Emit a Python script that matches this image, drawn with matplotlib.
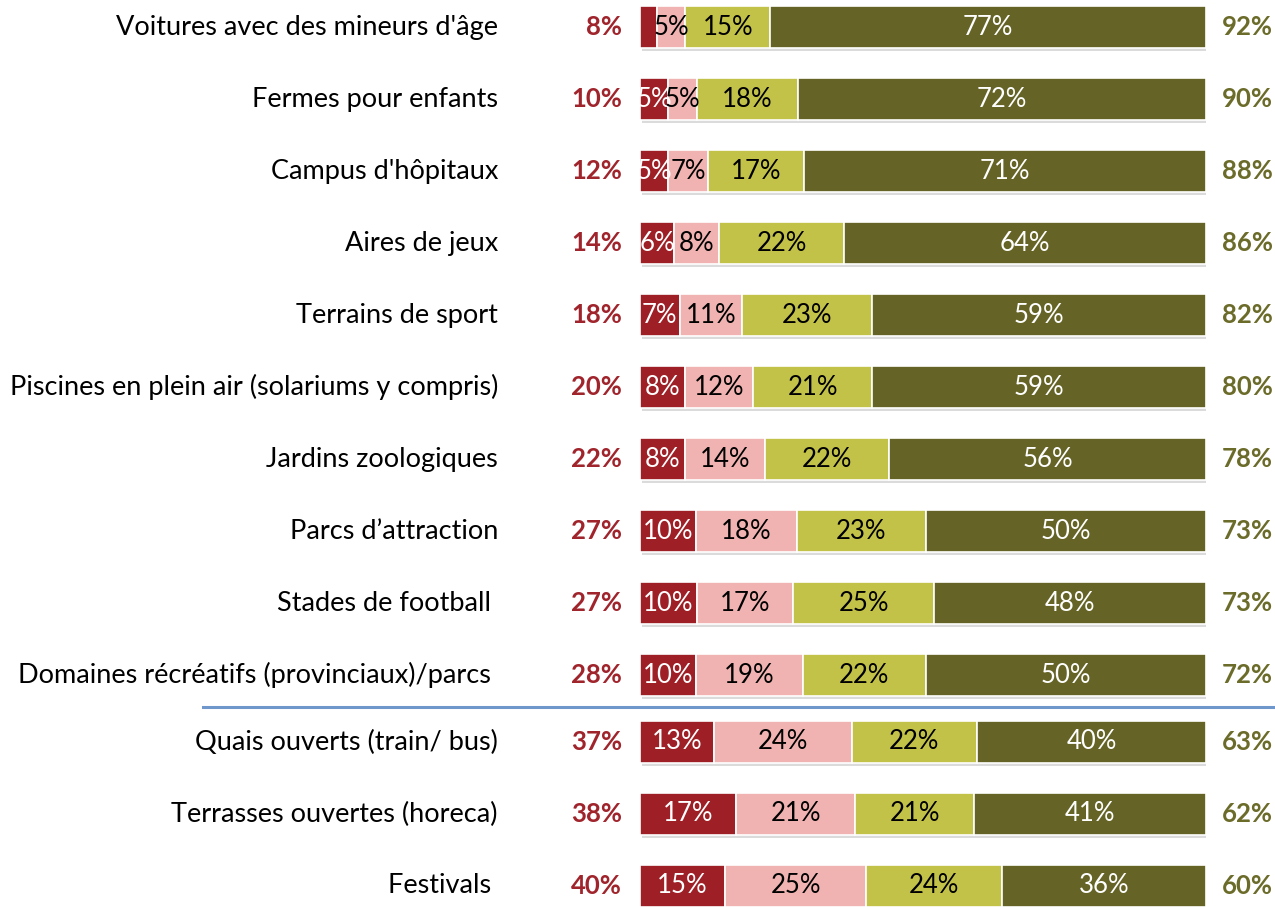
import matplotlib.pyplot as plt
import matplotlib.patheffects as pe

categories = [
    "Voitures avec des mineurs d'âge",
    "Fermes pour enfants",
    "Campus d'hôpitaux",
    "Aires de jeux",
    "Terrains de sport",
    "Piscines en plein air (solariums y compris)",
    "Jardins zoologiques",
    "Parcs d\u2019attraction",
    "Stades de football ",
    "Domaines récréatifs (provinciaux)/parcs ",
    "Quais ouverts (train/ bus)",
    "Terrasses ouvertes (horeca)",
    "Festivals ",
]
s1 = [3, 5, 5, 6, 7, 8, 8, 10, 10, 10, 13, 17, 15]
s2 = [5, 5, 7, 8, 11, 12, 14, 18, 17, 19, 24, 21, 25]
s3 = [15, 18, 17, 22, 23, 21, 22, 23, 25, 22, 22, 21, 24]
s4 = [77, 72, 71, 64, 59, 59, 56, 50, 48, 50, 40, 41, 36]
left_totals = [8, 10, 12, 14, 18, 20, 22, 27, 27, 28, 37, 38, 40]
right_totals = [92, 90, 88, 86, 82, 80, 78, 73, 73, 72, 63, 62, 60]

colors = ['#9E1F26', '#F0B3B1', '#C3C248', '#656426']
text_colors = ['white', 'black', 'black', 'white']

plt.rcParams['font.family'] = ['Lato', 'DejaVu Sans']

fig = plt.figure(figsize=(12.75, 9.07), dpi=100)
ax = fig.add_axes([640 / 1275, 0, 566 / 1275, 1])

# row positions: small gap before the last three rows
ypos = [i for i in range(10)] + [i - 0.07 for i in range(10, 13)]

series = [s1, s2, s3, s4]
shadow = [pe.SimplePatchShadow(offset=(1.5, -2.5), shadow_rgbFace='#999999', alpha=0.35), pe.Normal()]
for i, y in enumerate(ypos):
    vals = [s[i] for s in series]
    tot = sum(vals)
    left = 0
    for k, v in enumerate(vals):
        w = v / tot * 100
        ax.barh(y, w, left=left, height=0.58, color=colors[k], edgecolor='white',
                linewidth=1.2, path_effects=shadow)
        if v >= 4:
            ax.text(left + w / 2, y, f'{v}%', ha='center', va='center',
                    fontsize=18.5, color=text_colors[k])
        left += w

trans = ax.get_yaxis_transform()
for i, y in enumerate(ypos):
    ax.text(-0.2509, y, categories[i], transform=trans, ha='right', va='center',
            fontsize=19.5, color='black')
    ax.text(-0.0318, y, f'{left_totals[i]}%', transform=trans, ha='right', va='center',
            fontsize=18.5, fontweight='bold', color='#A0242C')
    ax.text(1.0283, y, f'{right_totals[i]}%', transform=trans, ha='left', va='center',
            fontsize=18.5, fontweight='bold', color='#6B6B2A')

ax.plot([-0.772, 1.122], [9.444, 9.444], transform=trans, color='#6F97CC',
        linewidth=2.2, clip_on=False)

ax.set_xlim(0, 100)
ax.set_ylim(12.222, -0.375)
ax.axis('off')

fig.savefig('out.png', dpi=100)
